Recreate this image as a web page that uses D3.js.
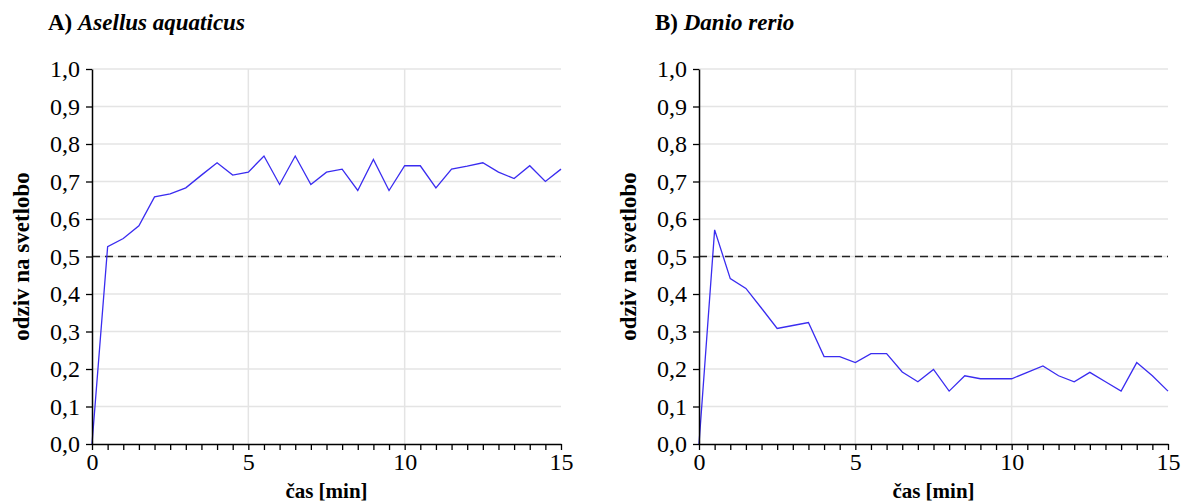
<!DOCTYPE html>
<html>
<head>
<meta charset="utf-8">
<script src="https://cdn.jsdelivr.net/npm/d3@7"></script>
<style>
  body { margin: 0; background: #fff; }
</style>
</head>
<body>
<svg id="chart" width="1181" height="502"></svg>
<script>
// time in minutes, one sample every 0.5 min
const time = [0, 0.5, 1, 1.5, 2, 2.5, 3, 3.5, 4, 4.5, 5, 5.5, 6, 6.5, 7, 7.5,
              8, 8.5, 9, 9.5, 10, 10.5, 11, 11.5, 12, 12.5, 13, 13.5, 14, 14.5, 15];

const asellus = [0.0, 0.526, 0.548, 0.582, 0.659, 0.667, 0.683, 0.717, 0.750, 0.717, 0.725,
                 0.768, 0.692, 0.768, 0.692, 0.725, 0.733, 0.676, 0.759, 0.676, 0.742,
                 0.742, 0.683, 0.733, 0.741, 0.750, 0.725, 0.708, 0.742, 0.700, 0.733];

const danio = [0.0, 0.571, 0.441, 0.415, 0.362, 0.308, 0.316, 0.324, 0.233, 0.233, 0.217,
               0.241, 0.241, 0.192, 0.166, 0.199, 0.141, 0.182, 0.174, 0.174, 0.174,
               0.191, 0.208, 0.182, 0.166, 0.191, 0.166, 0.141, 0.217, 0.182, 0.141];

const panels = [
  {letter: "A)", species: "Asellus aquaticus", values: asellus},
  {letter: "B)", species: "Danio rerio", values: danio}
];

const yTicks = [0, 0.1, 0.2, 0.3, 0.4, 0.5, 0.6, 0.7, 0.8, 0.9, 1.0];
const xLabelTicks = [0, 5, 10, 15];
const xGridTicks = [5, 10];
const threshold = 0.5;
const xTitle = "čas [min]";
const yTitle = "odziv na svetlobo";

const FONT = '"Liberation Serif"';
const svg = d3.select("#chart");
const fmt = d => d3.format(".1f")(d).replace(".", ",");

function drawPanel(p, left) {
  const x = d3.scaleLinear().domain([0, 15]).range([left, left + 469]);
  const y = d3.scaleLinear().domain([0, 1]).range([444, 69]);
  const g = svg.append("g");

  // grid
  g.selectAll(".hgrid").data(yTicks.slice(1)).enter().append("line")
    .attr("x1", x(0)).attr("x2", x(15))
    .attr("y1", d => y(d)).attr("y2", d => y(d))
    .attr("stroke", "#e4e4e4").attr("stroke-width", 1.5);
  g.selectAll(".vgrid").data(xGridTicks).enter().append("line")
    .attr("x1", d => x(d)).attr("x2", d => x(d))
    .attr("y1", y(0)).attr("y2", y(1))
    .attr("stroke", "#e4e4e4").attr("stroke-width", 1.5);

  // threshold
  g.append("line")
    .attr("x1", x(0)).attr("x2", x(15))
    .attr("y1", y(threshold)).attr("y2", y(threshold))
    .attr("stroke", "#222").attr("stroke-width", 1.3)
    .attr("stroke-dasharray", "8,5");

  // series
  g.append("path")
    .datum(time.map((t, i) => [t, p.values[i]]))
    .attr("fill", "none")
    .attr("stroke", "#3a2cf0")
    .attr("stroke-width", 1.3)
    .attr("d", d3.line().x(d => x(d[0])).y(d => y(d[1])));

  // axes
  const yAxis = g.append("g")
    .attr("transform", `translate(${x(0)},0)`)
    .call(d3.axisLeft(y).tickValues(yTicks).tickFormat(fmt).tickSize(6).tickSizeOuter(0));
  yAxis.select(".domain").attr("stroke-width", 1.5);
  yAxis.selectAll("line").attr("stroke-width", 1.3);
  yAxis.selectAll("text").attr("x", -12)
    .style("font-family", FONT).style("font-size", "24px");

  const xAxis = g.append("g")
    .attr("transform", `translate(0,${y(0)})`)
    .call(d3.axisBottom(x).tickValues(time).tickFormat(d => xLabelTicks.includes(d) ? d : "")
      .tickSize(6).tickSizeOuter(0));
  xAxis.select(".domain").attr("stroke-width", 1.5);
  xAxis.selectAll("line").attr("stroke-width", 1.3);
  xAxis.selectAll("text").attr("y", 9)
    .style("font-family", FONT).style("font-size", "24px");

  // titles
  const t = svg.append("text")
    .attr("x", left - 44).attr("y", 30)
    .style("font-family", FONT).style("font-size", "23px").style("font-weight", "bold");
  t.append("tspan").text(p.letter + " ");
  t.append("tspan").style("font-style", "italic").text(p.species);

  svg.append("text")
    .attr("x", x(7.5)).attr("y", 498)
    .attr("text-anchor", "middle")
    .style("font-family", FONT).style("font-size", "21px").style("font-weight", "bold")
    .text(xTitle);

  svg.append("text")
    .attr("transform", `translate(${left - 63},${y(0.5)}) rotate(-90)`)
    .attr("text-anchor", "middle")
    .style("font-family", FONT).style("font-size", "23px").style("font-weight", "bold")
    .text(yTitle);
}

drawPanel(panels[0], 92);
drawPanel(panels[1], 699);
</script>
</body>
</html>
